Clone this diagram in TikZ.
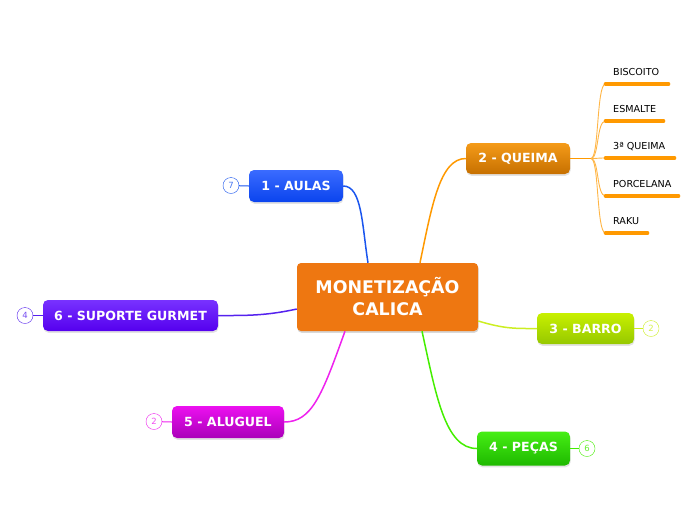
\documentclass[tikz,border=0pt]{standalone}
\usepackage{fontspec}
\setmainfont{DejaVu Sans}
\usetikzlibrary{shadows,calc}
\definecolor{cOr}{HTML}{EE7711}
\definecolor{cBl}{HTML}{1A55EE}
\definecolor{cQu}{HTML}{FF9900}
\definecolor{cBa}{HTML}{CCEE22}
\definecolor{cPe}{HTML}{44EE00}
\definecolor{cAl}{HTML}{EE22EE}
\definecolor{cSu}{HTML}{5522EE}
\definecolor{cHub}{HTML}{FFB545}
\tikzset{
  topic/.style={rounded corners=5pt, inner sep=0pt, text=white,
    font=\bfseries\fontsize{12.6}{15}\selectfont,
    drop shadow={opacity=0.22, shadow xshift=0.5pt, shadow yshift=-1.8pt}},
  badge/.style={circle, draw=#1, fill=white, minimum size=16pt, inner sep=0pt,
    text=#1!80, font=\fontsize{8.5}{9}\selectfont},
  conn/.style={line width=1.5pt, color=#1},
  child/.style={anchor=base west, inner sep=0pt, font=\fontsize{9.6}{11}\selectfont, text=black},
  under/.style={line width=3.6pt, color=cQu, line cap=round},
  twig/.style={line width=0.9pt, color=cHub}
}
\begin{document}
\begin{tikzpicture}[x=1pt,y=-1pt]
\useasboundingbox (0,0) rectangle (696,520);

% central
\node[topic, fill=cOr, rounded corners=4pt, minimum width=181pt, minimum height=68pt,
  align=center, font=\bfseries\fontsize{17.4}{22}\selectfont,
  drop shadow={opacity=0.15, shadow xshift=0.5pt, shadow yshift=-1.5pt}]
  (central) at (387.5,297) {MONETIZAÇÃO\\CALICA};

% topics
\node[topic, top color={rgb,255:red,58;green,107;blue,255}, bottom color={rgb,255:red,10;green,68;blue,238},
  minimum width=94pt, minimum height=32pt] (aulas) at (296,186) {1 - AULAS};
\node[topic, top color={rgb,255:red,245;green,155;blue,25}, bottom color={rgb,255:red,198;green,112;blue,0},
  minimum width=104pt, minimum height=31pt] (queima) at (518,158.5) {2 - QUEIMA};
\node[topic, top color={rgb,255:red,200;green,240;blue,0}, bottom color={rgb,255:red,150;green,200;blue,0},
  minimum width=97pt, minimum height=31pt] (barro) at (585.5,328.5) {3 - BARRO};
\node[topic, top color={rgb,255:red,70;green,238;blue,20}, bottom color={rgb,255:red,30;green,185;blue,0},
  minimum width=93pt, minimum height=34pt] (pecas) at (523.5,448.5) {4 - PEÇAS};
\node[topic, top color={rgb,255:red,236;green,16;blue,240}, bottom color={rgb,255:red,170;green,0;blue,185},
  minimum width=112pt, minimum height=32pt] (aluguel) at (228,422) {5 - ALUGUEL};
\node[topic, top color={rgb,255:red,120;green,50;blue,255}, bottom color={rgb,255:red,85;green,0;blue,238},
  minimum width=175pt, minimum height=31pt] (suporte) at (130.5,315.5) {6 - SUPORTE GURMET};

% connectors from central
\coordinate (cA) at ($(central.north)+(-19.5,0)$);
\coordinate (cQ) at ($(central.north)+(32.5,0)$);
\coordinate (cB) at ($(central.east)+(0,24)$);
\coordinate (cP) at ($(central.south)+(34.5,0)$);
\coordinate (cL) at ($(central.south)+(-42.5,0)$);
\coordinate (cS) at ($(central.west)+(0,12)$);
\draw[conn=cBl] (cA) .. controls (362,225) and (362,186) .. (aulas.east);
\draw[conn=cQu] (cQ) .. controls (432,205) and (440,158.5) .. (queima.west);
\draw[conn=cBa] (cB) .. controls (505,329) and (515,328.5) .. (barro.west);
\draw[conn=cPe] (cP) .. controls (436,395) and (445,448.5) .. (pecas.west);
\draw[conn=cAl] (cL) .. controls (322,395) and (312,422) .. (aluguel.east);
\draw[conn=cSu] (cS) .. controls (265,316) and (245,315.5) .. (suporte.east);

% badges
\node[badge=cBl] (bA) at (231,185.5) {7};
\node[badge=cSu] (bS) at (25,315.5) {4};
\node[badge=cAl] (bL) at (154,421.5) {2};
\node[badge=cBa] (bB) at (651,328.5) {2};
\node[badge=cPe] (bP) at (587,448.5) {6};
\draw[conn=cBl, line width=1pt] (bA) -- (aulas.west);
\draw[conn=cSu, line width=1pt] (bS) -- (suporte.west);
\draw[conn=cAl, line width=1pt] (bL) -- (aluguel.west);
\draw[conn=cBa, line width=1pt] (barro.east) -- (bB);
\draw[conn=cPe, line width=1pt] (pecas.east) -- (bP);

% queima children
\coordinate (hub) at (591,158.5);
\draw[conn=cQu, line width=1.3pt] (queima.east) -- (hub);
\node[child] (k1) at (613,75) {BISCOITO};
\node[child] (k2) at (613,112) {ESMALTE};
\node[child] (k3) at (613,149) {3ª QUEIMA};
\node[child] (k4) at (613,187) {PORCELANA};
\node[child] (k5) at (613,224) {RAKU};
\foreach \k/\w in {k1/63,k2/58,k3/69,k4/73,k5/42}{
  \coordinate (\k s) at ($(\k.base west)+(-7.5,9)$);
  \draw[twig] (hub) .. controls ($(hub)+(8,0)$) and ($(\k s)+(-9,0)$) .. (\k s);
  \draw[under] (\k s) -- ++(\w,0);
}
\end{tikzpicture}
\end{document}
